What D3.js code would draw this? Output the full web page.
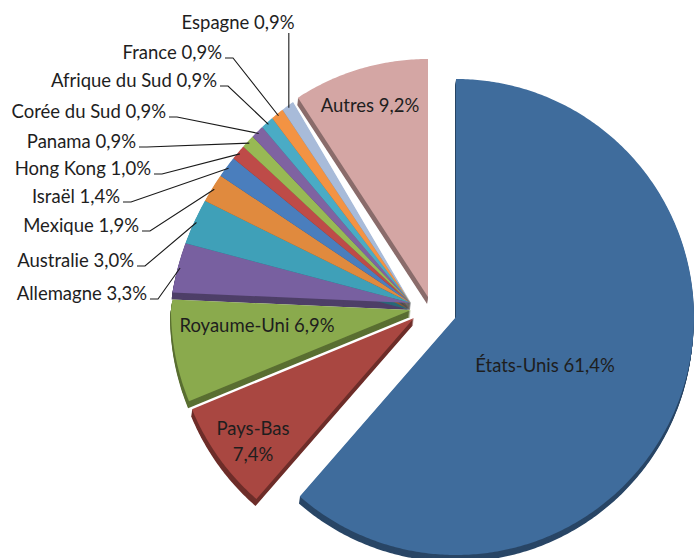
<!DOCTYPE html>
<html>
<head>
<meta charset="utf-8">
<script src="https://cdn.jsdelivr.net/npm/d3@7"></script>
<style>
  html, body { margin: 0; padding: 0; background: #ffffff; }
  svg text { font-family: "Lato", "Open Sans", sans-serif; fill: #1e1e1e; }
</style>
</head>
<body>
<svg id="chart" width="696" height="558"></svg>
<script>
// Share of each destination country (%)
const countries = ["États-Unis", "Pays-Bas", "Royaume-Uni", "Allemagne", "Australie", "Mexique",
  "Israël", "Hong Kong", "Panama", "Corée du Sud", "Afrique du Sud", "France", "Espagne", "Autres"];
const shares = [61.4, 7.4, 6.9, 3.3, 3.0, 1.9, 1.4, 1.0, 0.9, 0.9, 0.9, 0.9, 0.9, 9.2];
const colors = ["#3F6C9C", "#A94741", "#8AAA4D", "#7860A0", "#3FA0B8", "#E08A3E", "#4A7EBD",
  "#BE4B48", "#98B954", "#7F63A1", "#4AABC5", "#F39343", "#A8BBD9", "#D4A6A4"];

// Layout of the pie: hub, per-slice explosion, radius and a light perspective on the far half
const hub = { x: 411, y: 303 };
const explode = {
  "États-Unis": [45, 14], "Pays-Bas": [3, 15], "Royaume-Uni": [0, 7], "Autres": [17, -6]
};
const flat = new Set(["États-Unis", "Autres"]);
const R = 240;
const persp = 0.12;
const depth = { dx: -0.9, dy: 7, steps: 7 };
const fontSize = 18.5;

// Label placement: inside labels are centred, outside labels sit left of the pie with leaders
const inside = {
  "États-Unis": [[545, 365]], "Autres": [[370, 105]], "Royaume-Uni": [[257, 325]],
  "Pays-Bas": [[253, 428], [253, 454]]
};
const outside = {
  "Espagne": { x: 238, y: 22, anchor: "middle" },
  "France": { x: 222, y: 52 }, "Afrique du Sud": { x: 217, y: 80 },
  "Corée du Sud": { x: 166, y: 111 }, "Panama": { x: 136, y: 141 },
  "Hong Kong": { x: 151, y: 168 }, "Israël": { x: 120, y: 196 },
  "Mexique": { x: 139, y: 225 }, "Australie": { x: 134, y: 260 },
  "Allemagne": { x: 147, y: 293 }
};

const fmt = v => d3.format(".1f")(v).replace(".", ",") + "%";

const svg = d3.select("#chart");

const pie = d3.pie().sort(null).value(d => d.share).startAngle(0).endAngle(2 * Math.PI);
const slices = pie(countries.map((c, i) => ({ name: c, share: shares[i], color: colors[i] })));

function vertexOf(d) {
  const o = explode[d.data.name] || [0, 0];
  return [hub.x + o[0], hub.y + o[1]];
}
function radiusOf(d) { return flat.has(d.data.name) ? 238 : R; }

// Project a point of the pie plane (angle, radius) to the page
function project(d, a, r) {
  const [vx, vy] = vertexOf(d);
  const u = r * Math.sin(a), v = -r * Math.cos(a);
  const p = flat.has(d.data.name) ? 0 : persp;
  const s = 1 + p * Math.min(v, 0) / R;
  return [vx + u * s, vy + v];
}

function outline(d) {
  const r = radiusOf(d);
  const pts = [vertexOf(d)];
  const n = Math.max(4, Math.ceil((d.endAngle - d.startAngle) / 0.01));
  for (let k = 0; k <= n; k++) {
    const a = d.startAngle + (d.endAngle - d.startAngle) * k / n;
    pts.push(project(d, a, r));
  }
  return pts;
}

const line = d3.line().curve(d3.curveLinearClosed);

// Side walls: the top face swept downward
const sides = svg.append("g");
slices.forEach(d => {
  const pts = outline(d);
  const dark = d3.color(d.data.color).darker(1.2).formatHex();
  for (let k = depth.steps; k >= 1; k--) {
    const t = k / depth.steps;
    sides.append("path")
      .attr("d", line(pts.map(([x, y]) => [x + depth.dx * t, y + depth.dy * t])))
      .attr("fill", dark);
  }
});

// Top faces
svg.append("g").selectAll("path")
  .data(slices)
  .join("path")
  .attr("d", d => line(outline(d)))
  .attr("fill", d => d.data.color);

// Inside labels
slices.forEach(d => {
  const pos = inside[d.data.name];
  if (!pos) return;
  const lines = pos.length > 1 ? [d.data.name, fmt(d.data.share)] : [d.data.name + " " + fmt(d.data.share)];
  lines.forEach((t, i) => {
    svg.append("text")
      .attr("x", pos[i][0]).attr("y", pos[i][1])
      .attr("text-anchor", "middle").attr("dominant-baseline", "central")
      .attr("font-size", fontSize)
      .text(t);
  });
});

// Outside labels with leader lines
const leaders = svg.append("g").attr("fill", "none").attr("stroke", "#1a1a1a").attr("stroke-width", 1.1);
slices.forEach(d => {
  const L = outside[d.data.name];
  if (!L) return;
  const mid = (d.startAngle + d.endAngle) / 2;
  const end = project(d, mid, radiusOf(d) * 0.99);
  const label = d.data.name + " " + fmt(d.data.share);
  svg.append("text")
    .attr("x", L.x).attr("y", L.y)
    .attr("text-anchor", L.anchor === "middle" ? "middle" : "end")
    .attr("dominant-baseline", "central")
    .attr("font-size", fontSize)
    .text(label);
  let pts;
  if (L.anchor === "middle") {
    pts = [[end[0], L.y + 11], end];
  } else {
    pts = [[L.x + 3, L.y + 6], [L.x + 11, L.y + 6], end];
  }
  leaders.append("path").attr("d", d3.line()(pts));
});
</script>
</body>
</html>
